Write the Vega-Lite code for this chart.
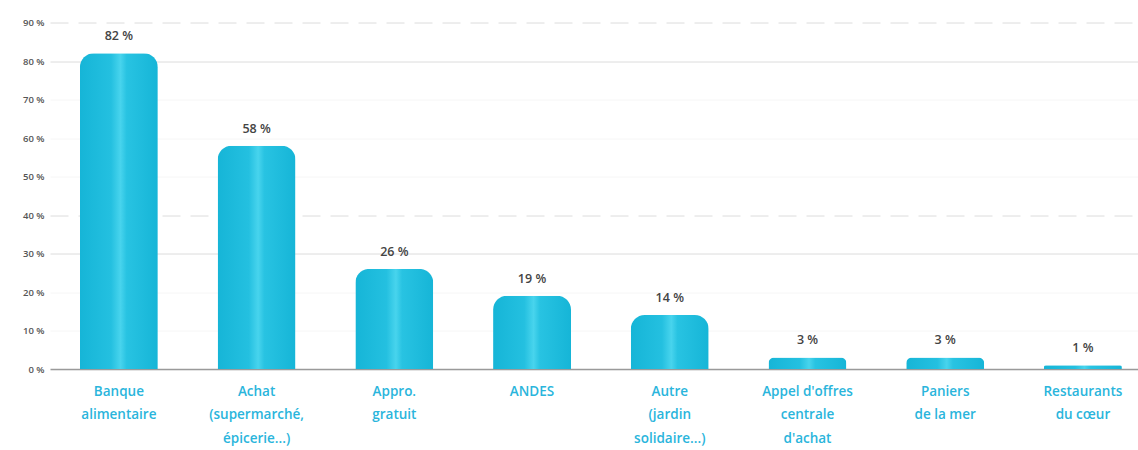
{
  "$schema": "https://vega.github.io/schema/vega-lite/v6.json",
  "autosize": "none",
  "width": 1088,
  "height": 346.5,
  "padding": {"left": 50, "top": 22.5, "right": 0, "bottom": 81},
  "background": "white",
  "data": {
    "values": [
      {"categorie": "Banque\nalimentaire", "pct": 82},
      {"categorie": "Achat\n(supermarché,\népicerie...)", "pct": 58},
      {"categorie": "Appro.\ngratuit", "pct": 26},
      {"categorie": "ANDES", "pct": 19},
      {"categorie": "Autre\n(jardin\nsolidaire...)", "pct": 14},
      {"categorie": "Appel d'offres\ncentrale\nd'achat", "pct": 3},
      {"categorie": "Paniers\nde la mer", "pct": 3},
      {"categorie": "Restaurants\ndu cœur", "pct": 1}
    ]
  },
  "config": {
    "view": {"stroke": null},
    "font": "Open Sans"
  },
  "encoding": {
    "x": {
      "field": "categorie",
      "type": "nominal",
      "sort": null,
      "scale": {"paddingInner": 0.434, "paddingOuter": 0.167, "align": 0.65},
      "axis": {
        "title": null,
        "labelAngle": 0,
        "labelExpr": "split(datum.label, '\\n')",
        "labelColor": "#2ab5dc",
        "labelFontSize": 13.5,
        "labelFontWeight": 600,
        "labelLineHeight": 23.5,
        "labelPadding": 15,
        "labelBaseline": "top",
        "ticks": false,
        "domainColor": "#9a9a9a",
        "domainWidth": 1.5,
        "labelLimit": 200
      }
    },
    "y": {
      "field": "pct",
      "type": "quantitative",
      "scale": {"domain": [0, 90], "nice": false},
      "axis": {
        "title": null,
        "values": [0, 10, 20, 30, 40, 50, 60, 70, 80, 90],
        "labelExpr": "datum.value + ' %'",
        "labelFontSize": 9.5,
        "labelFontWeight": 600,
        "labelColor": "#555555",
        "labelPadding": 6,
        "ticks": false,
        "domain": false,
        "grid": true,
        "gridColor": {"condition": {"test": "datum.value == 30 || datum.value == 40 || datum.value == 80 || datum.value == 90", "value": "#dcdcdc"}, "value": "#f6f6f6"},
        "gridDash": {"condition": {"test": "datum.value == 40 || datum.value == 90", "value": [18, 10]}, "value": []},
        "gridWidth": 1
      }
    }
  },
  "layer": [
    {
      "mark": {
        "type": "bar",
        "cornerRadiusTopLeft": 14,
        "cornerRadiusTopRight": 14,
        "color": {
          "gradient": "linear",
          "x1": 0, "y1": 0, "x2": 1, "y2": 0,
          "stops": [
            {"offset": 0, "color": "#16b5d7"},
            {"offset": 0.4, "color": "#24c0e0"},
            {"offset": 0.52, "color": "#48d4ed"},
            {"offset": 0.6, "color": "#28c3e2"},
            {"offset": 1, "color": "#16b5d7"}
          ]
        }
      }
    },
    {
      "mark": {"type": "text", "baseline": "bottom", "dy": -10, "fontSize": 12.5, "fontWeight": 600, "color": "#444444", "text": {"expr": "datum.pct + ' %'"}}
    }
  ]
}
